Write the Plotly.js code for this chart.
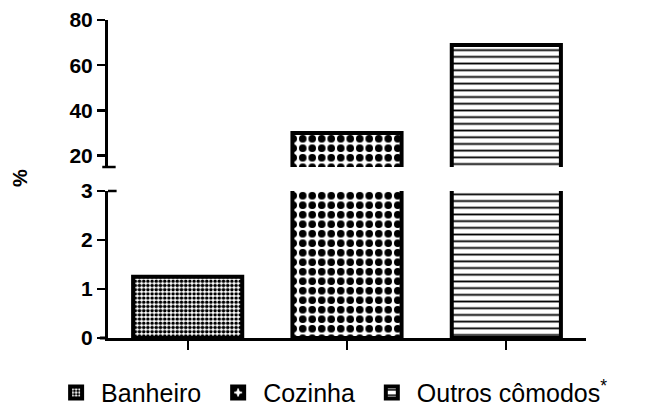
<!DOCTYPE html>
<html>
<head>
<meta charset="utf-8">
<script src="https://cdn.plot.ly/plotly-3.0.1.min.js"></script>
<style>html,body{margin:0;padding:0;background:#fff;}#chart{width:669px;height:408px;}</style>
</head>
<body>
<div id="chart"></div>
<script>
// Data
const categories = ['Banheiro', 'Cozinha', 'Outros cômodos'];
const legendNames = ['Banheiro', 'Cozinha', 'Outros cômodos<sup>*</sup>'];
const values = [1.25, 30, 69];
const lowerTicks = [0, 1, 2, 3];
const upperTicks = [20, 40, 60, 80];

const patterns = [
  {shape: '.', size: 4.2, solidity: 0.55},
  {shape: '.', size: 9.5, solidity: 0.5},
  {shape: '-', size: 6.7, solidity: 0.27}
];

// extra spacing between legend entries
const legendPad = ['\u00a0', '\u00a0', ''];

const traces = [];
['y', 'y2'].forEach(function (ax) {
  categories.forEach(function (c, i) {
    traces.push({
      type: 'bar',
      x: [c],
      y: [values[i]],
      name: legendNames[i] + legendPad[i],
      yaxis: ax,
      xaxis: 'x',
      width: 0.685,
      showlegend: ax === 'y',
      hoverinfo: 'skip',
      cliponaxis: true,
      marker: {
        color: 'white',
        line: {color: 'black', width: 4},
        pattern: Object.assign({fgcolor: 'black', bgcolor: 'white', fillmode: 'replace'}, patterns[i])
      }
    });
  });
});

const tickFont = {family: 'Liberation Sans, Arial, sans-serif', size: 21, color: 'black', weight: 'bold'};

const layout = {
  width: 669,
  height: 408,
  margin: {l: 108, r: 83, t: 20, b: 70, autoexpand: false},
  paper_bgcolor: 'white',
  plot_bgcolor: 'white',
  barmode: 'overlay',
  showlegend: true,
  legend: {
    orientation: 'h',
    x: -0.119, xanchor: 'left',
    y: -0.1, yanchor: 'top',
    font: {family: 'Liberation Sans, Arial, sans-serif', size: 25, color: 'black'},
    itemwidth: 40,
    traceorder: 'normal'
  },
  xaxis: {
    type: 'category',
    categoryarray: categories,
    range: [-0.5, 2.5],
    anchor: 'y',
    showline: true, linewidth: 3, linecolor: 'black',
    ticks: 'outside', ticklen: 9, tickwidth: 2, tickcolor: 'black',
    showticklabels: false,
    showgrid: false, zeroline: false
  },
  yaxis: {
    domain: [0, 0.4623],
    range: [0, 3],
    tickvals: lowerTicks,
    showline: true, linewidth: 3, linecolor: 'black',
    ticks: 'outside', ticklen: 8, tickwidth: 2.5, tickcolor: 'black',
    tickfont: tickFont,
    showgrid: false, zeroline: false,
    anchor: 'x'
  },
  yaxis2: {
    domain: [0.5377, 1],
    range: [15, 80],
    tickvals: upperTicks,
    showline: true, linewidth: 3, linecolor: 'black',
    ticks: 'outside', ticklen: 8, tickwidth: 2.5, tickcolor: 'black',
    tickfont: tickFont,
    showgrid: false, zeroline: false,
    anchor: 'x'
  },
  shapes: [
    {type: 'line', xref: 'x domain', yref: 'y2 domain', x0: -0.012, x1: 0.016, y0: 0, y1: 0,
     line: {color: 'black', width: 2.5}},
    {type: 'line', xref: 'x domain', yref: 'y domain', x0: 0, x1: 0.018, y0: 1, y1: 1,
     line: {color: 'black', width: 2.5}},
    {type: 'line', xref: 'x domain', yref: 'y domain', x0: -0.017, x1: 0, y0: 0, y1: 0,
     line: {color: 'black', width: 3}}
  ],
  annotations: [
    {text: '%', textangle: -90, xref: 'paper', yref: 'paper', x: -0.184, y: 0.503,
     xanchor: 'center', yanchor: 'middle', showarrow: false,
     font: {family: 'Liberation Sans, Arial, sans-serif', size: 20, color: 'black', weight: 'bold'}}
  ]
};

Plotly.newPlot('chart', traces, layout, {displayModeBar: false, staticPlot: true});
</script>
</body>
</html>
